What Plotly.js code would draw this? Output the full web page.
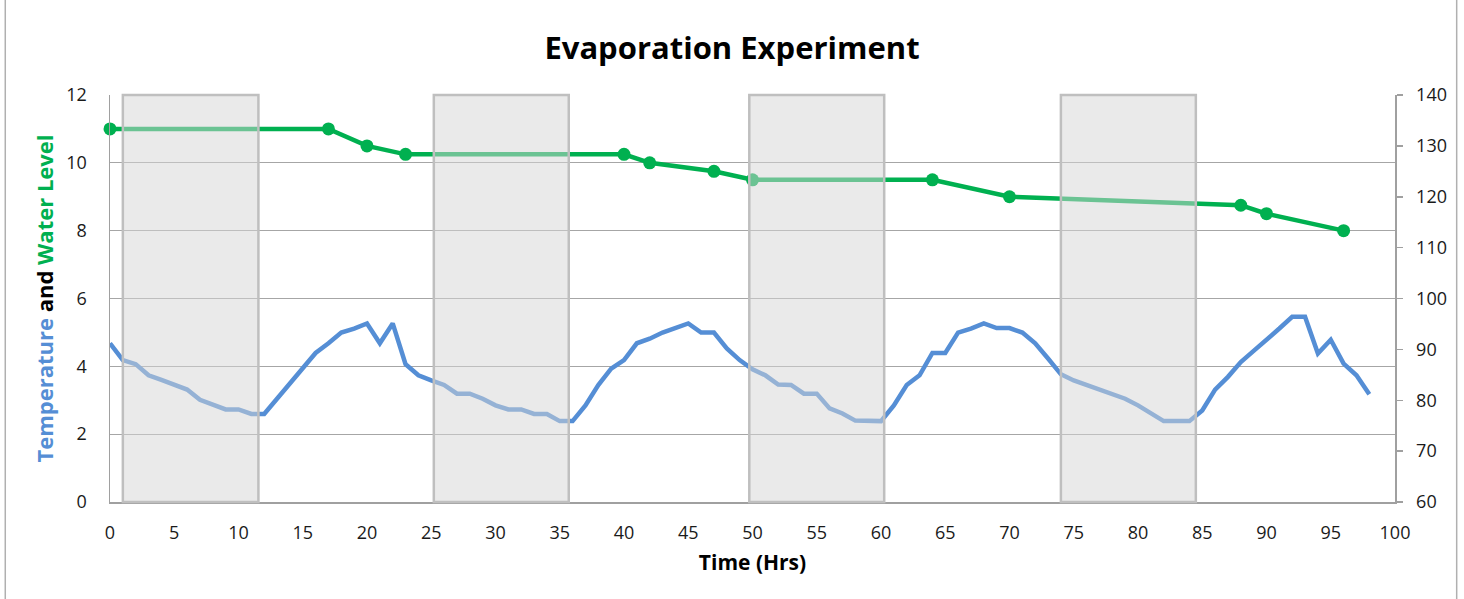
<!DOCTYPE html>
<html><head><meta charset="utf-8">
<script src="https://cdn.plot.ly/plotly-3.0.1.min.js"></script>
<style>html,body{margin:0;padding:0;background:#fff;} #chart{width:1464px;height:599px;}</style>
</head><body><div id="chart"></div>
<script>
// Time axis (hours) for temperature readings
const hours = [0,1,2,3,4,5,6,7,8,9,10,11,12,13,14,15,16,17,18,19,20,21,22,23,24,25,26,27,28,29,30,31,32,33,34,35,36,37,38,39,40,41,42,43,44,45,46,47,48,49,50,51,52,53,54,55,56,57,58,59,60,61,62,63,64,65,66,67,68,69,70,71,72,73,74,75,76,77,78,79,80,81,82,83,84,85,86,87,88,89,90,91,92,93,94,95,96,97,98];
// Temperature (right axis)
const temperature = [91.2,87.9,87.1,84.9,84.0,83.0,82.1,80.1,79.2,78.2,78.2,77.3,77.3,80.3,83.3,86.2,89.3,91.2,93.3,94.1,95.1,91.2,95.1,87.1,84.9,83.9,83.0,81.3,81.3,80.3,79.0,78.2,78.2,77.3,77.3,75.9,75.9,79.0,83.0,86.2,87.9,91.2,92.1,93.3,94.1,95.1,93.3,93.3,90.2,87.9,86.1,84.9,83.1,83.0,81.3,81.3,78.4,77.4,76.0,75.9,75.9,79.0,83.0,84.9,89.3,89.3,93.3,94.1,95.1,94.2,94.2,93.3,91.2,88.2,85.1,83.9,83.0,82.1,81.2,80.3,79.0,77.4,75.9,75.9,75.9,78.0,82.1,84.6,87.5,89.7,91.8,94.1,96.4,96.4,89.2,91.9,87.2,84.9,81.2];
// Water level readings (left axis)
const levelHours = [0,17,20,23,40,42,47,50,64,70,88,90,96];
const waterLevel = [11,11,10.5,10.25,10.25,10,9.75,9.5,9.5,9,8.75,8.5,8];
// Night periods (shaded)
const nightStart = [1.0,25.2,49.75,74.0];
const nightEnd = [11.55,35.7,60.25,84.5];
// Tick values
const xTicks = [0,5,10,15,20,25,30,35,40,45,50,55,60,65,70,75,80,85,90,95,100];
const yTicks = [0,2,4,6,8,10,12];
const y2Ticks = [60,70,80,90,100,110,120,130,140];

const FONT = '"Open Sans", "DejaVu Sans", sans-serif';
const BLUE = '#558ED5', GREEN = '#00B050';

const traces = [
  {x: hours, y: temperature, yaxis: 'y2', type: 'scatter', mode: 'lines',
   line: {color: BLUE, width: 4.5}, name: 'Temperature', cliponaxis: false},
  {x: levelHours, y: waterLevel, yaxis: 'y', type: 'scatter', mode: 'lines+markers',
   line: {color: GREEN, width: 4.5}, marker: {color: GREEN, size: 13}, name: 'Water Level',
   cliponaxis: false}
];

const shapes = nightStart.map((s, i) => ({
  type: 'rect', xref: 'x', yref: 'paper', x0: s, x1: nightEnd[i], y0: 0, y1: 1,
  fillcolor: 'rgba(214,214,214,0.5)', line: {color: '#BFBFBF', width: 2.5}, layer: 'above'
}));
shapes.push({type: 'line', xref: 'paper', yref: 'paper', x0: -0.0815, x1: -0.0815, y0: -0.3, y1: 1.3,
  line: {color: '#B0B0B0', width: 1.5}});
shapes.push({type: 'line', xref: 'paper', yref: 'paper', x0: 1.048, x1: 1.048, y0: -0.3, y1: 1.3,
  line: {color: '#B0B0B0', width: 1.5}});

const layout = {
  width: 1464, height: 599,
  margin: {l: 110, r: 69, t: 95, b: 97, pad: 0},
  paper_bgcolor: '#ffffff', plot_bgcolor: '#ffffff',
  showlegend: false,
  font: {family: FONT, color: '#1a1a1a', size: 18},
  title: {text: '<b>Evaporation Experiment</b>', font: {family: FONT, size: 31, color: '#000'},
    x: 0.5, xref: 'container', y: 1 - 48/599, yref: 'container', yanchor: 'middle'},
  xaxis: {range: [0, 100], tickvals: xTicks, showgrid: false, zeroline: false,
    showline: true, linecolor: '#A0A0A0', linewidth: 1.5, ticks: '', ticklabelstandoff: 14,
    tickfont: {size: 18, family: FONT, color: '#1a1a1a'},
    title: {text: '<b>Time (Hrs)</b>', font: {size: 21, family: FONT, color: '#000'}, standoff: 12}},
  yaxis: {range: [0, 12], tickvals: yTicks, showgrid: true, gridcolor: '#A6A6A6', gridwidth: 1.2,
    zeroline: false, showline: true, linecolor: '#A0A0A0', linewidth: 1.5, ticks: '',
    ticklabelstandoff: 18, tickfont: {size: 18, family: FONT, color: '#1a1a1a'},
    title: {text: '<b><span style="color:#558ED5">Temperature</span> and <span style="color:#00B050">Water Level</span></b>',
      font: {size: 22, family: FONT, color: '#000'}, standoff: 6}},
  yaxis2: {range: [60, 140], tickvals: y2Ticks, overlaying: 'y', side: 'right', showgrid: false,
    zeroline: false, showline: true, linecolor: '#A0A0A0', linewidth: 1.5, ticks: 'outside',
    ticklen: 6, tickcolor: '#A0A0A0', tickwidth: 1.5, ticklabelstandoff: 10,
    tickfont: {size: 18, family: FONT, color: '#1a1a1a'}},
  shapes: shapes
};

Plotly.newPlot('chart', traces, layout, {staticPlot: true, displayModeBar: false});
</script>
</body></html>
